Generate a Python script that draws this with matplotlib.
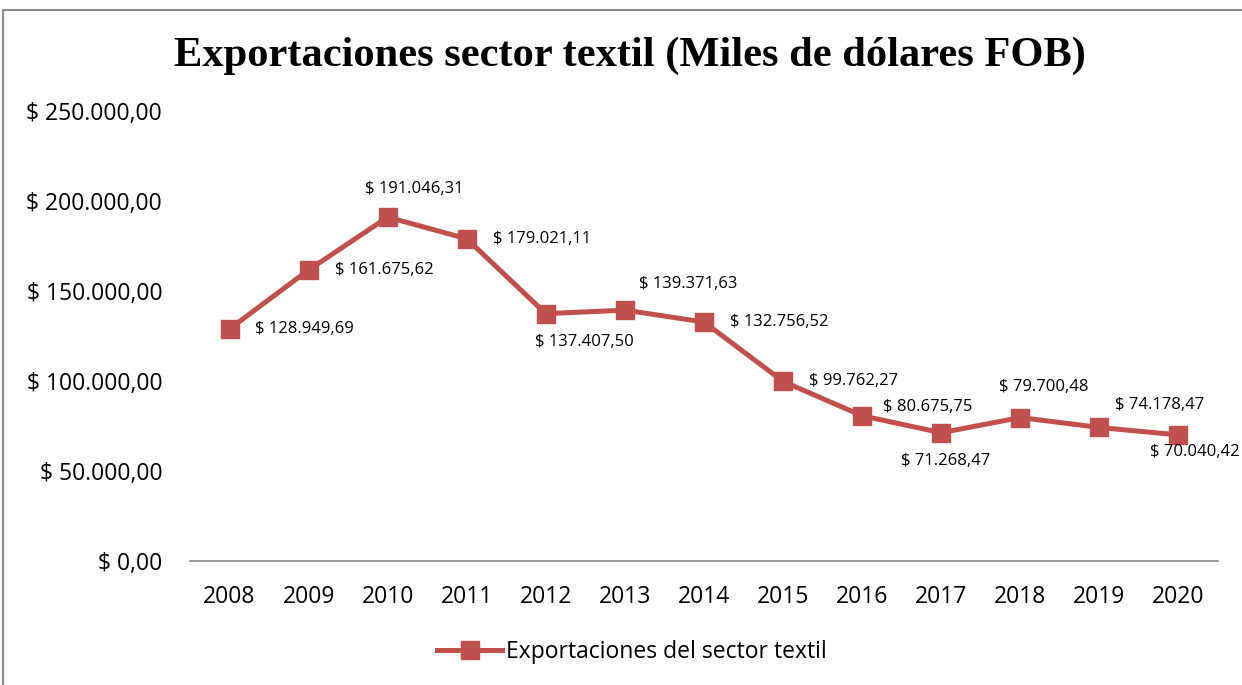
import matplotlib.pyplot as plt
from matplotlib.patches import Rectangle

years = ['2008', '2009', '2010', '2011', '2012', '2013', '2014',
         '2015', '2016', '2017', '2018', '2019', '2020']
exports = [128949.69, 161675.62, 191046.31, 179021.11, 137407.50, 139371.63,
           132756.52, 99762.27, 80675.75, 71268.47, 79700.48, 74178.47, 70040.42]
yticks = [0, 50000, 100000, 150000, 200000, 250000]

# label offsets in pixels (left edge of text)
offsets = [(25, 0), (26, 0), (-23, 28), (26, 0), (-11, -28), (14, 26), (26, 0),
           (26, 0), (21, 9), (-40, -28), (-21, 31), (16, 22), (-28, -17)]

def fmt(v):
    s = f"{v:,.2f}"
    s = s.replace(',', 'X').replace('.', ',').replace('X', '.')
    return "$ " + s

red = '#C0504D'
lab_font = 'Open Sans'

fig = plt.figure(figsize=(12.42, 6.85), dpi=100)
fig.patches.append(Rectangle((3 / 1242, -0.1), 1.1, 1.1 - 10 / 685,
                             transform=fig.transFigure, fill=False,
                             edgecolor='#8c8c8c', linewidth=1.5))
ax = fig.add_axes([190 / 1242, 1 - 561 / 685, (1218 - 190) / 1242, (561 - 111) / 685])

x = list(range(len(years)))
ax.plot(x, exports, color=red, linewidth=3.6, marker='s', markersize=13,
        label='Exportaciones del sector textil')

for i, v in enumerate(exports):
    ax.annotate(fmt(v), (x[i], v), xytext=offsets[i], textcoords='offset pixels',
                ha='left', va='center', fontsize=12, family=lab_font, color='#000000')

ax.set_xlim(-0.5, len(years) - 0.5)
ax.set_ylim(0, 250000)
ax.set_xticks(x)
ax.set_xticklabels(years, fontsize=16.5, family=lab_font)
ax.set_yticks(yticks)
ax.set_yticklabels([fmt(t) for t in yticks], fontsize=16.5, family=lab_font)
ax.tick_params(axis='both', length=0)
ax.tick_params(axis='x', pad=17)
ax.tick_params(axis='y', pad=20)
for s in ['top', 'right', 'left']:
    ax.spines[s].set_visible(False)
ax.spines['bottom'].set_color('#868686')
ax.spines['bottom'].set_linewidth(1.2)

fig.text(0.507, 1 - 56 / 685, 'Exportaciones sector textil (Miles de dólares FOB)',
         ha='center', va='center', fontsize=30.6, fontweight='bold', family='Liberation Serif')

fig.legend(loc='center', bbox_to_anchor=(0.509, 1 - 652 / 685), frameon=False,
           prop={'family': lab_font, 'size': 16.5}, handlelength=2.8, handletextpad=0.2)

fig.savefig('out.png', dpi=100)
